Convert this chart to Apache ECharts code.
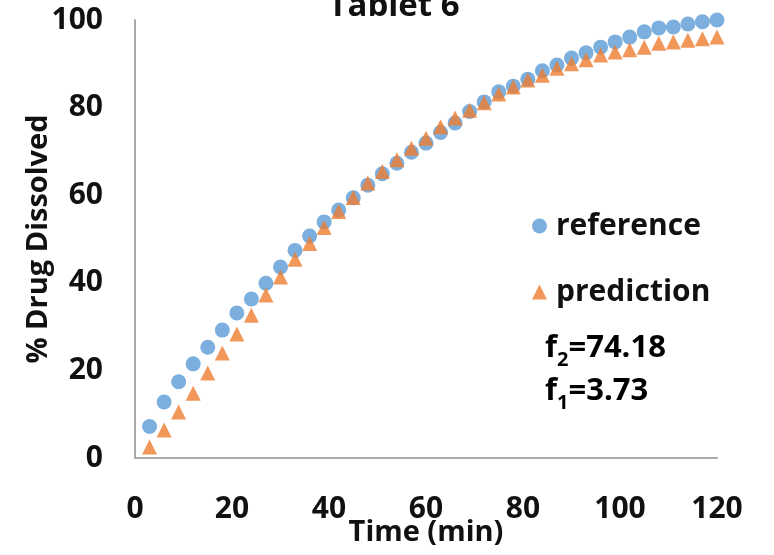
<!DOCTYPE html>
<html>
<head>
<meta charset="utf-8">
<script src="https://cdn.jsdelivr.net/npm/echarts@6/dist/echarts.min.js"></script>
<style>html,body{margin:0;padding:0;background:#fff}#c{width:774px;height:555px}</style>
</head>
<body>
<div id="c"></div>
<script>
var time = [3,6,9,12,15,18,21,24,27,30,33,36,39,42,45,48,51,54,57,60,63,66,69,72,75,78,81,84,87,90,93,96,99,102,105,108,111,114,117,120];
var reference = [7.2,12.8,17.4,21.5,25.3,29.2,33.1,36.3,39.9,43.6,47.4,50.7,53.9,56.6,59.4,62.3,64.9,67.3,69.8,71.9,74.3,76.5,79.1,81.3,83.6,84.9,86.5,88.4,89.7,91.3,92.5,93.8,95.0,96.1,97.3,98.2,98.4,99.1,99.6,100];
var prediction = [2.5,6.4,10.5,14.8,19.4,24.0,28.3,32.6,37.2,41.3,45.4,49.0,52.6,56.3,59.5,62.8,65.4,68.1,70.7,73.0,75.6,77.6,79.4,81.1,83.1,84.7,86.3,87.4,89.0,90.0,90.9,92.0,92.7,93.2,93.8,94.7,95.0,95.4,95.7,96.1];
var seriesNames = ['reference','prediction'];
var titleText = 'Tablet 6';
var xName = 'Time (min)';
var yName = '% Drug Dissolved';
var f2Text = '74.18';
var f1Text = '3.73';

function pairs(xs, ys){ return xs.map(function(x,i){ return [x, ys[i]]; }); }

var FONT = '"Open Sans", sans-serif';
var richF = {
  f: {fontFamily: FONT, fontWeight: 'bold', fontSize: 31, color: '#111', lineHeight: 38, verticalAlign: 'bottom'},
  s: {fontFamily: FONT, fontWeight: 'bold', fontSize: 20, color: '#111', lineHeight: 38, verticalAlign: 'bottom', padding: [0,0,-6,0]}
};
var chart = echarts.init(document.getElementById('c'));
chart.setOption({
  animation: false,
  backgroundColor: '#fff',
  title: {
    text: titleText, left: 389, top: -15, textAlign: 'center',
    textStyle: {fontFamily: FONT, fontWeight: 'bold', fontSize: 33, color: '#111'}
  },
  grid: {left: 135, right: 57, top: 20, bottom: 97, containLabel: false, outerBoundsMode: 'none'},
  xAxis: {
    type: 'value', min: 0, max: 120, interval: 20,
    name: xName, nameLocation: 'middle', nameGap: 60, nameMoveOverlap: false,
    nameTextStyle: {fontFamily: FONT, fontWeight: 'bold', fontSize: 29, color: '#111'},
    axisLine: {show: true, lineStyle: {color: '#aaaaaa', width: 2}},
    axisTick: {show: false}, splitLine: {show: false},
    axisLabel: {fontFamily: FONT, fontWeight: 'bold', fontSize: 30, color: '#111', margin: 36}
  },
  yAxis: {
    type: 'value', min: 0, max: 100, interval: 20,
    name: yName, nameLocation: 'middle', nameGap: 82, nameMoveOverlap: false,
    nameTextStyle: {fontFamily: FONT, fontWeight: 'bold', fontSize: 29, color: '#111'},
    axisLine: {show: true, lineStyle: {color: '#aaaaaa', width: 2}},
    axisTick: {show: false}, splitLine: {show: false},
    axisLabel: {fontFamily: FONT, fontWeight: 'bold', fontSize: 30, color: '#111', margin: 32}
  },
  legend: {
    orient: 'vertical', left: 527, top: 206, itemGap: 36,
    itemWidth: 15, itemHeight: 15,
    textStyle: {fontFamily: FONT, fontWeight: 'bold', fontSize: 30, color: '#111', padding: [0,0,0,4]},
    data: [{name: seriesNames[0], icon: 'circle'}, {name: seriesNames[1], icon: 'triangle'}]
  },
  graphic: [
    {type: 'text', left: 545, top: 333, style: {text: '{f|f}{s|2}{f|=' + f2Text + '}', rich: richF}},
    {type: 'text', left: 545, top: 376, style: {text: '{f|f}{s|1}{f|=' + f1Text + '}', rich: richF}}
  ],
  series: [
    {name: seriesNames[0], type: 'scatter', symbol: 'circle', symbolSize: 15,
     itemStyle: {color: '#5B9BD5'}, data: pairs(time, reference)},
    {name: seriesNames[1], type: 'scatter', symbol: 'triangle', symbolSize: 15,
     itemStyle: {color: '#ED7D31'}, data: pairs(time, prediction)}
  ]
});
</script>
</body>
</html>
